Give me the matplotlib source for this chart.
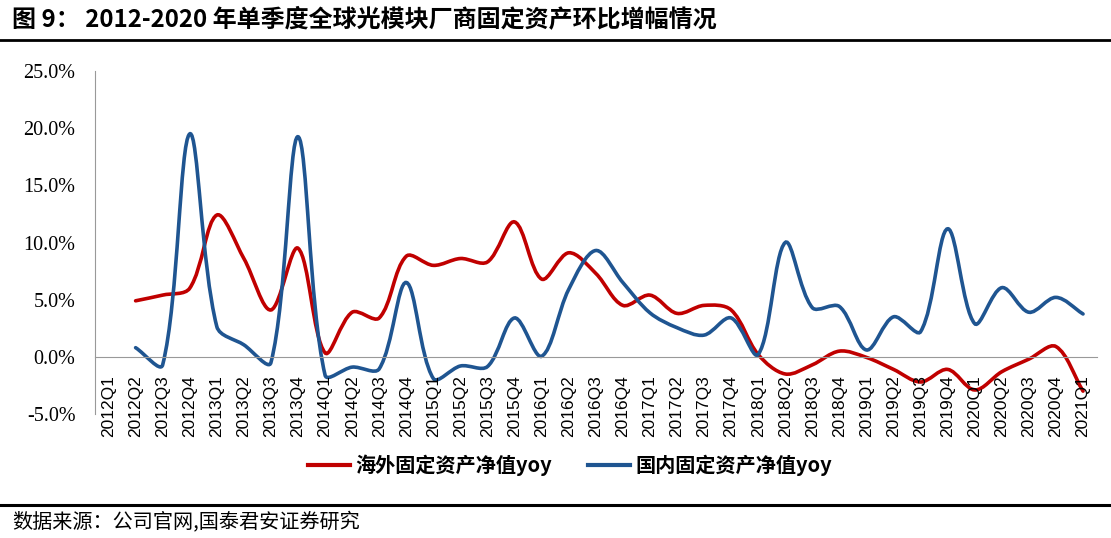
import matplotlib
matplotlib.use("Agg")
import matplotlib.pyplot as plt
from matplotlib.path import Path
from matplotlib.patches import PathPatch
from matplotlib.lines import Line2D
from matplotlib.ticker import FuncFormatter

plt.rcParams['font.family'] = ['Noto Sans CJK SC', 'DejaVu Sans']

# 37 quarters on the axis, data starts from 2012Q2
quarters = [str(y) + "Q" + str(q) for y in range(2012, 2022) for q in range(1, 5)][:37]

# 海外固定资产净值yoy (%), 2012Q2 .. 2021Q1
overseas = [4.9, 5.4, 6.0, 12.4, 8.6, 4.1, 9.5, 0.35, 3.9, 3.4, 8.8,
            8.0, 8.6, 8.3, 11.8, 6.8, 9.1, 7.3, 4.5, 5.4, 3.8, 4.5, 4.1,
            0.2, -1.5, -0.7, 0.5, -0.05, -1.1, -2.2, -1.1, -2.9, -1.3, -0.2, 0.9, -3.0]

# 国内固定资产净值yoy (%)
domestic = [0.8, -0.7, 19.5, 2.65, 1.05, -0.5, 19.25, -1.6, -0.9, -1.05, 6.5,
            -1.9, -0.8, -0.85, 3.4, 0.05, 5.9, 9.3, 6.5, 3.85, 2.55, 1.9, 3.4,
            0.2, 10.0, 4.3, 4.4, 0.6, 3.5, 2.2, 11.2, 2.9, 6.05, 3.9, 5.2, 3.75]

PX_X = 27.0   # pixels per category
PX_Y = 11.44  # pixels per 1%


def smooth_path(xs, ys):
    # excel-like smoothed line: bezier, tangent split by segment length
    n = len(xs)
    pts = [(x * PX_X, y * PX_Y) for x, y in zip(xs, ys)]
    outs, ins = [], []
    for i in range(n):
        a = pts[i - 1] if i > 0 else pts[i]
        b = pts[i + 1] if i < n - 1 else pts[i]
        dp = ((pts[i][0] - a[0]) ** 2 + (pts[i][1] - a[1]) ** 2) ** 0.5
        dn = ((b[0] - pts[i][0]) ** 2 + (b[1] - pts[i][1]) ** 2) ** 0.5
        tot = dp + dn if dp + dn > 0 else 1
        tx, ty = b[0] - a[0], b[1] - a[1]
        outs.append((pts[i][0] + tx * dn / tot / 3, pts[i][1] + ty * dn / tot / 3))
        ins.append((pts[i][0] - tx * dp / tot / 3, pts[i][1] - ty * dp / tot / 3))
    verts = [pts[0]]
    codes = [Path.MOVETO]
    for i in range(n - 1):
        verts += [outs[i], ins[i + 1], pts[i + 1]]
        codes += [Path.CURVE4] * 3
    verts = [(vx / PX_X, vy / PX_Y) for vx, vy in verts]
    return Path(verts, codes)


fig = plt.figure(figsize=(11.11, 5.38), dpi=100)
ax = fig.add_axes([0.0855, 0.2305, 0.9015, 0.6375])

red = '#C00000'
blue = '#1F5591'
xs = list(range(1, 37))
ax.add_patch(PathPatch(smooth_path(xs, overseas), fill=False, edgecolor=red, lw=2.6, capstyle='round'))
ax.add_patch(PathPatch(smooth_path(xs, domestic), fill=False, edgecolor=blue, lw=2.6, capstyle='round'))

ax.set_xlim(-0.5, 36.5)
ax.set_ylim(-5, 25)
ax.set_yticks([-5, 0, 5, 10, 15, 20, 25])
ax.yaxis.set_major_formatter(FuncFormatter(lambda v, p: "%.1f%%" % v))
ax.tick_params(axis='y', length=0, pad=14, labelsize=14.5, labelfontfamily='Liberation Serif')

ax.set_xticks(range(37))
ax.set_xticklabels(quarters)
ax.tick_params(axis='x', length=0, pad=13, labelrotation=90, labelsize=12.5,
               labelfontfamily='Liberation Sans')

ax.spines['top'].set_visible(False)
ax.spines['right'].set_visible(False)
ax.spines['left'].set_color('#999999')
ax.spines['bottom'].set_color('#999999')
ax.spines['bottom'].set_position(('data', 0))

# legend
lx = [(308, 350, 355, red, "海外固定资产净值yoy"), (588, 630, 635, blue, "国内固定资产净值yoy")]
for x0, x1, tx, c, lab in lx:
    fig.add_artist(Line2D([x0 / 1111, x1 / 1111], [1 - 465 / 538] * 2, color=c, lw=3))
    fig.text(tx / 1111, 1 - 465 / 538, lab, fontsize=14.5, fontweight='bold', va='center', ha='left')

# title and source
fig.text(12 / 1111, 1 - 19 / 538, "图 9： 2012-2020 年单季度全球光模块厂商固定资产环比增幅情况",
         fontsize=17.3, fontweight='bold', va='center', ha='left')
fig.add_artist(Line2D([0, 1], [1 - 40 / 538] * 2, color='black', lw=2))
fig.add_artist(Line2D([0, 1], [1 - 505 / 538] * 2, color='black', lw=2.2))
fig.text(12 / 1111, 1 - 523 / 538, "数据来源：公司官网,国泰君安证券研究", fontsize=14.5, va='center', ha='left')

fig.savefig("out.png", dpi=100)
